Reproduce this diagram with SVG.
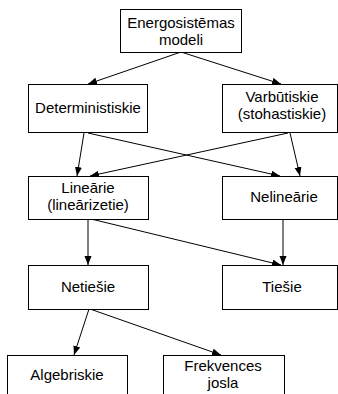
<svg xmlns="http://www.w3.org/2000/svg" width="338" height="394" viewBox="0 0 338 394">
<style>
rect{fill:#fff;stroke:#000;stroke-width:1}
text{font-family:"Liberation Sans",Arial,sans-serif;font-size:15px;fill:#000;text-anchor:middle}
#edges line{stroke:#000;stroke-width:1;marker-end:url(#ah)}
</style>
<defs>
<marker id="ah" markerUnits="userSpaceOnUse" markerWidth="10" markerHeight="8" refX="9" refY="3.5" orient="auto">
<path d="M0,0 L9,3.5 L0,7 z" fill="#000"/>
</marker>
</defs>
<rect x="0" y="0" width="338" height="394" style="stroke:none"/>
<g id="edges">
<line x1="181" y1="52" x2="88" y2="84"/>
<line x1="181" y1="52" x2="281" y2="84"/>
<line x1="84" y1="133" x2="77" y2="176"/>
<line x1="88" y1="133" x2="280" y2="176"/>
<line x1="288" y1="133" x2="90" y2="176"/>
<line x1="290" y1="133" x2="300" y2="176"/>
<line x1="88" y1="219" x2="88" y2="265"/>
<line x1="91" y1="219" x2="281" y2="265"/>
<line x1="283" y1="219" x2="283" y2="265"/>
<line x1="89" y1="309" x2="74" y2="355"/>
<line x1="90" y1="309" x2="221" y2="355"/>
</g>
<g id="n-energo">
<rect x="120.5" y="9.5" width="121" height="43"/>
<text x="181" y="28">Energosistēmas</text>
<text x="181" y="45">modeli</text>
</g>
<g id="n-det">
<rect x="28.5" y="84.5" width="119" height="48"/>
<text x="88" y="113">Deterministiskie</text>
</g>
<g id="n-varb">
<rect x="222.5" y="84.5" width="115" height="48"/>
<text x="282" y="102">Varbūtiskie</text>
<text x="282" y="119">(stohastiskie)</text>
</g>
<g id="n-lin">
<rect x="28.5" y="176.5" width="120" height="43"/>
<text x="88" y="193">Lineārie</text>
<text x="88" y="210">(lineārizetie)</text>
</g>
<g id="n-nelin">
<rect x="222.5" y="176.5" width="115" height="43"/>
<text x="284" y="202">Nelineārie</text>
</g>
<g id="n-netiesie">
<rect x="28.5" y="265.5" width="120" height="44"/>
<text x="88" y="292">Netiešie</text>
</g>
<g id="n-tiesie">
<rect x="222.5" y="265.5" width="115" height="44"/>
<text x="282" y="292">Tiešie</text>
</g>
<g id="n-alg">
<rect x="7.5" y="355.5" width="120" height="44"/>
<text x="67" y="380">Algebriskie</text>
</g>
<g id="n-frek">
<rect x="163.5" y="355.5" width="121" height="44"/>
<text x="223" y="371">Frekvences</text>
<text x="223" y="388">josla</text>
</g>
</svg>
